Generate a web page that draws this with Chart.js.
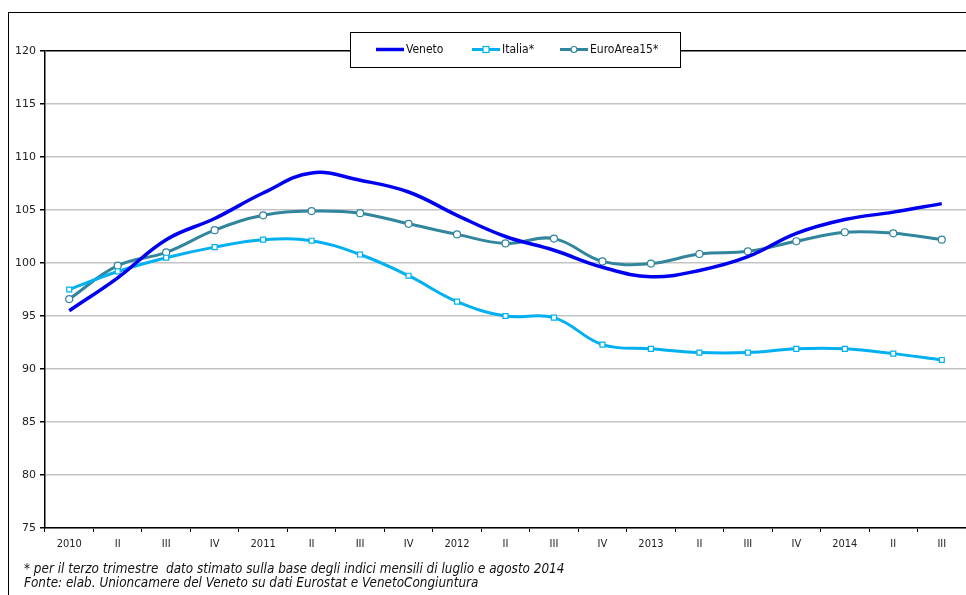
<!DOCTYPE html>
<html lang="it">
<head>
  <meta charset="UTF-8">
  <title>Veneto, Italia, EuroArea15</title>
  <script src="https://cdn.jsdelivr.net/npm/chart.js"></script>
  <style>
    body {
      margin: 0;
      padding: 0;
      background: #fff;
      overflow: hidden;
    }
    .wrap {
      position: relative;
      width: 966px;
      height: 595px;
    }
    .frame {
      position: absolute;
      left: 8px;
      top: 12px;
      width: 1000px;
      height: 700px;
      border-left: 1px solid #000;
      border-top: 1px solid #000;
    }
    .note {
      position: absolute;
      left: 24px;
      top: 562px;
      font-family: "DejaVu Sans Condensed", "DejaVu Sans", sans-serif;
      font-style: italic;
      font-size: 13.4px;
      line-height: 14px;
      color: #111;
    }
    canvas {
      position: absolute;
      left: 0;
      top: 0;
    }
  </style>
</head>
<body>
  <div class="wrap">
    <div class="frame"></div>
    <canvas id="chart" width="966" height="595"></canvas>
    <div class="note">
      * per il terzo trimestre&nbsp; dato stimato sulla base degli indici mensili di luglio e agosto 2014<br>
      Fonte: elab. Unioncamere del Veneto su dati Eurostat e VenetoCongiuntura
    </div>
  </div>

  <script>
    // trimestri 2010 - III 2014
    const quarters = ['2010', 'II', 'III', 'IV', '2011', 'II', 'III', 'IV', '2012', 'II', 'III', 'IV',
                      '2013', 'II', 'III', 'IV', '2014', 'II', 'III'];

    const veneto = [95.5, 98.6, 102.2, 104.2, 106.6, 108.5, 107.8, 106.7, 104.5, 102.5, 101.2, 99.6,
                    98.7, 99.3, 100.6, 102.8, 104.1, 104.8, 105.6];
    const italia = [97.5, 99.2, 100.5, 101.5, 102.2, 102.1, 100.8, 98.8, 96.35, 95.0, 94.85, 92.3,
                    91.9, 91.55, 91.55, 91.9, 91.9, 91.45, 90.85];
    const euroArea = [96.6, 99.75, 101.0, 103.1, 104.5, 104.9, 104.7, 103.7, 102.7, 101.85, 102.3, 100.15,
                      99.95, 100.85, 101.1, 102.05, 102.9, 102.8, 102.2];

    const yMin = 75;
    const yMax = 120;
    const yStep = 5;

    // legenda con riquadro, disegnata sopra il grafico
    const legendBox = {
      id: 'legendBox',
      afterDraw(chart) {
        const ctx = chart.ctx;
        const x = 350, y = 32, w = 330, h = 35;
        ctx.save();
        ctx.fillStyle = '#fff';
        ctx.fillRect(x, y, w, h);
        ctx.strokeStyle = '#000';
        ctx.lineWidth = 1;
        ctx.strokeRect(x + 0.5, y + 0.5, w, h);

        const starts = [376, 472, 560];
        const cy = 49.5;
        ctx.font = '12px "DejaVu Sans Condensed", "DejaVu Sans", sans-serif';
        ctx.textBaseline = 'middle';
        chart.data.datasets.forEach((ds, i) => {
          const sx = starts[i];
          ctx.strokeStyle = ds.borderColor;
          ctx.lineWidth = ds.borderWidth;
          ctx.beginPath();
          ctx.moveTo(sx, cy);
          ctx.lineTo(sx + 28, cy);
          ctx.stroke();
          if (ds.pointRadius > 0) {
            ctx.fillStyle = '#fff';
            ctx.strokeStyle = ds.pointBorderColor;
            ctx.lineWidth = 1.2;
            if (ds.pointStyle === 'rect') {
              ctx.fillRect(sx + 11, cy - 3, 6, 6);
              ctx.strokeRect(sx + 11, cy - 3, 6, 6);
            } else {
              ctx.beginPath();
              ctx.arc(sx + 14, cy, 3, 0, Math.PI * 2);
              ctx.fill();
              ctx.stroke();
            }
          }
          ctx.fillStyle = '#111';
          ctx.fillText(ds.label, sx + 30, cy);
        });
        ctx.restore();
      }
    };

    const ctx = document.getElementById('chart').getContext('2d');
    const chart = new Chart(ctx, {
      type: 'line',
      data: {
        labels: quarters,
        datasets: [
          {
            label: 'Veneto',
            data: veneto,
            borderColor: '#0000F0',
            borderWidth: 3.5,
            pointRadius: 0,
            tension: 0.4
          },
          {
            label: 'Italia*',
            data: italia,
            borderColor: '#00B0F0',
            borderWidth: 3,
            pointStyle: 'rect',
            pointRadius: 3.5,
            pointBackgroundColor: '#fff',
            pointBorderColor: '#00B0F0',
            pointBorderWidth: 1.2,
            tension: 0.4
          },
          {
            label: 'EuroArea15*',
            data: euroArea,
            borderColor: '#31859C',
            borderWidth: 3,
            pointStyle: 'circle',
            pointRadius: 3.5,
            pointBackgroundColor: '#fff',
            pointBorderColor: '#31859C',
            pointBorderWidth: 1.2,
            tension: 0.4
          }
        ]
      },
      options: {
        responsive: false,
        animation: false,
        layout: {
          autoPadding: false,
          padding: { left: 0, right: 0, top: 51, bottom: 42 }
        },
        plugins: {
          legend: { display: false },
          tooltip: { enabled: false }
        },
        scales: {
          x: {
            offset: true,
            grid: {
              offset: true,
              drawOnChartArea: false,
              drawTicks: true,
              tickLength: 4,
              tickColor: '#000'
            },
            border: { color: '#000', width: 1.5 },
            ticks: {
              color: '#222',
              padding: 6,
              maxRotation: 0,
              autoSkip: false,
              font: { family: '"DejaVu Sans Condensed", "DejaVu Sans", sans-serif', size: 11 }
            },
            afterFit: function(scale) { scale.height = 25; }
          },
          y: {
            min: yMin,
            max: yMax,
            grid: {
              color: function(c) { return c.tick && c.tick.value === yMax ? '#000' : '#c4c4c4'; },
              lineWidth: 1.5,
              tickLength: 5,
              tickColor: '#000'
            },
            border: { color: '#000', width: 1.5 },
            ticks: {
              stepSize: yStep,
              color: '#222',
              padding: 4,
              font: { family: '"DejaVu Sans", sans-serif', size: 11 }
            },
            afterFit: function(scale) { scale.width = 45; }
          }
        }
      },
      plugins: [legendBox]
    });
  </script>
</body>
</html>
